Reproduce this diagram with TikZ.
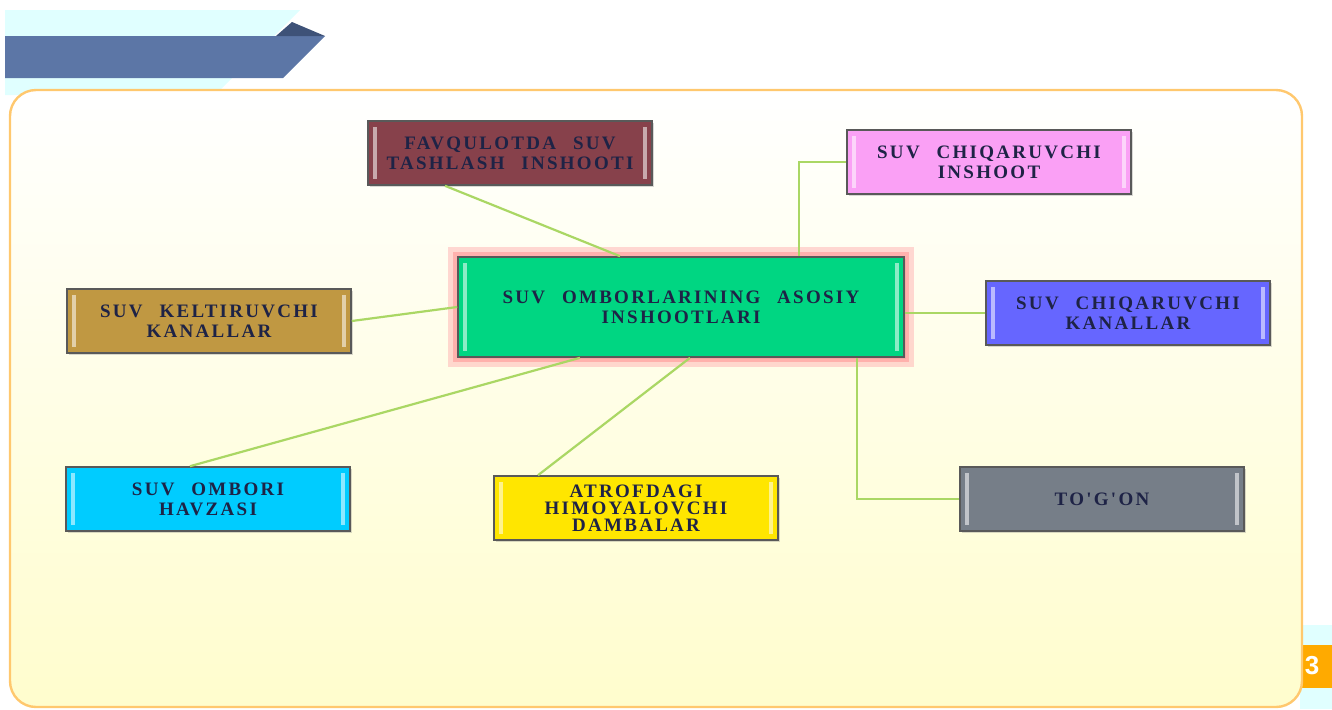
\documentclass[tikz,border=0pt]{standalone}
\usepackage{fontspec}
\setmainfont{Liberation Serif}
\newfontfamily\boxfont{Liberation Serif}[LetterSpace=12,WordSpace=2.4]
\newfontfamily\pagefont{Liberation Sans}
\usetikzlibrary{positioning,shadows,calc}
\definecolor{frameline}{RGB}{255,200,110}
\definecolor{cream}{RGB}{255,253,205}
\definecolor{paleaqua}{RGB}{224,255,255}
\definecolor{bannerblue}{RGB}{92,118,166}
\definecolor{bannerdark}{RGB}{62,82,120}
\definecolor{linkgreen}{RGB}{170,215,100}
\definecolor{boxtext}{RGB}{30,35,70}
\definecolor{rosewood}{RGB}{135,65,75}
\definecolor{orchid}{RGB}{250,160,245}
\definecolor{ochre}{RGB}{192,152,66}
\definecolor{violetblue}{RGB}{102,102,255}
\definecolor{skyaqua}{RGB}{0,204,255}
\definecolor{lemon}{RGB}{255,230,0}
\definecolor{slate}{RGB}{118,126,136}
\definecolor{mint}{RGB}{0,214,130}
\definecolor{pageorange}{RGB}{255,170,0}

\begin{document}
\begin{tikzpicture}[x=0.5pt,y=-0.5pt,
    bevelbox/.style={draw=gray!70!black,line width=0.8pt,align=center,inner sep=2pt,
      font=\boxfont\bfseries\fontsize{9.5}{10}\selectfont,text=boxtext,
      drop shadow={opacity=0.3,shadow xshift=1pt,shadow yshift=-1pt},
      path picture={
        \fill[white,opacity=0.55] ([xshift=2.5pt,yshift=-3pt]path picture bounding box.north west) rectangle ([xshift=4.5pt,yshift=3pt]path picture bounding box.south west);
        \fill[white,opacity=0.55] ([xshift=-2.5pt,yshift=-3pt]path picture bounding box.north east) rectangle ([xshift=-4.5pt,yshift=3pt]path picture bounding box.south east);
      }},
    sidebox/.style={bevelbox,minimum width=142pt,minimum height=32pt},
    linkline/.style={draw=linkgreen,line width=1.1pt}]
  \useasboundingbox (0,0) rectangle (1332,709);
  % background and banner
  \fill[paleaqua] (5,10) -- (300,10) -- (215,95) -- (5,95) -- cycle;
  \fill[bannerblue] (5,36) -- (325,36) -- (283,78) -- (5,78) -- cycle;
  \fill[bannerdark] (276,36) -- (292,22) -- (325,36) -- cycle;
  \fill[paleaqua] (1300,625) rectangle (1332,709);
  \fill[pageorange] (1302,645) rectangle (1332,688);
  \draw[frameline,line width=1.2pt,rounded corners=13pt,top color=white,middle color=white!60!cream,bottom color=cream]
    (10,90) rectangle (1302,707);
  \node[font=\pagefont\bfseries\fontsize{13}{13}\selectfont,text=white,inner sep=0pt] (pagenum) at (1312,666) {3};

  % outer boxes
  \foreach \n/\x/\y/\c/\t in {
    fav/510/153/rosewood/{FAVQULOTDA SUV\\TASHLASH INSHOOTI},
    inshoot/989/162/orchid/{SUV CHIQARUVCHI\\INSHOOT},
    kelt/209/321/ochre/{SUV KELTIRUVCHI\\KANALLAR},
    kanal/1128/313/violetblue/{SUV CHIQARUVCHI\\KANALLAR},
    havza/208/499/skyaqua/{SUV OMBORI\\HAVZASI},
    togon/1102/499/slate/{TO'G'ON}}
  {
    \node[sidebox,fill=\c] (\n) at (\x,\y) {\t};
  }
  \node[sidebox,fill=lemon,font=\boxfont\bfseries\fontsize{9.5}{8.6}\selectfont] (atrof) at (636,508)
    {ATROFDAGI\\HIMOYALOVCHI\\DAMBALAR};

  % central box
  \node[bevelbox,fill=mint,minimum width=223pt,minimum height=50pt,
    preaction={draw=red!30,line width=10pt,opacity=0.5,rounded corners=5pt},
    preaction={draw=red!45,line width=5pt,opacity=0.5,rounded corners=2pt}] (ctr) at (681,307)
    {SUV OMBORLARINING ASOSIY\\INSHOOTLARI};

  % connectors
  \draw[linkline] ([xshift=-32.5pt]fav.south) -- ([xshift=-30.5pt]ctr.north);
  \draw[linkline] ([xshift=59pt]ctr.north) |- (inshoot.west);
  \draw[linkline] (kelt.east) -- (ctr.west);
  \draw[linkline] (ctr.east |- kanal.west) -- (kanal.west);
  \draw[linkline] ([xshift=-50.5pt]ctr.south) -- ([xshift=-9pt]havza.north);
  \draw[linkline] ([xshift=4.5pt]ctr.south) -- ([xshift=-49pt]atrof.north);
  \draw[linkline] ([xshift=88pt]ctr.south) |- (togon.west);
\end{tikzpicture}
\end{document}
